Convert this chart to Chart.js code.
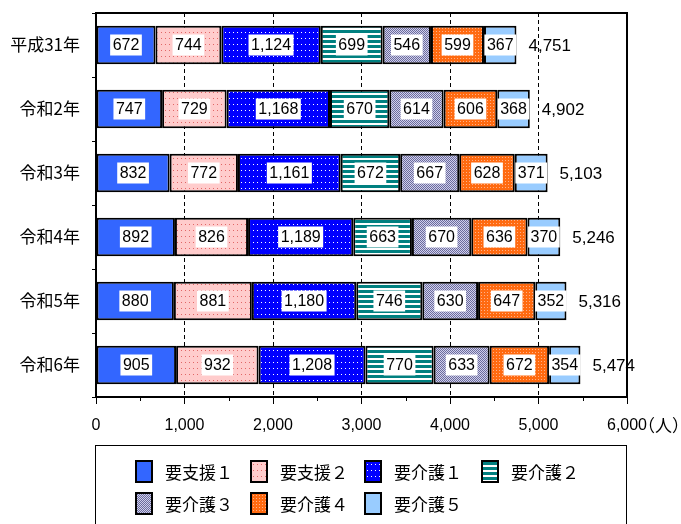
<!DOCTYPE html>
<html><head><meta charset="utf-8">
<script src="https://cdn.jsdelivr.net/npm/chart.js@4"></script>
<style>
html,body{margin:0;padding:0;background:#fff;overflow:hidden}
#wrap{position:relative;width:681px;height:524px}
#legend{position:absolute;left:95px;top:445px;width:532px;height:100px;border:1px solid #000;box-sizing:border-box}
.item{position:absolute;height:23px;font:17px "Noto Sans CJK JP";line-height:23px;white-space:nowrap;color:#000}
.sw{position:absolute;left:0;top:0;width:18px;height:23px;box-sizing:border-box;border:2px solid #000}
.item span{position:absolute;left:30px;top:0}
</style></head>
<body><div id="wrap"><canvas id="c" width="681" height="524"></canvas><div id="legend"></div></div>
<script>
const categories = ["平成31年", "令和2年", "令和3年", "令和4年", "令和5年", "令和6年"];
const seriesNames = ["要支援１", "要支援２", "要介護１", "要介護２", "要介護３", "要介護４", "要介護５"];
const shien1 = [672, 747, 832, 892, 880, 905];
const shien2 = [744, 729, 772, 826, 881, 932];
const kaigo1 = [1124, 1168, 1161, 1189, 1180, 1208];
const kaigo2 = [699, 670, 672, 663, 746, 770];
const kaigo3 = [546, 614, 667, 670, 630, 633];
const kaigo4 = [599, 606, 628, 636, 647, 672];
const kaigo5 = [367, 368, 371, 370, 352, 354];
const totals = [4751, 4902, 5103, 5246, 5316, 5474];
const axisMax = 6000;
const unitLabel = "（人）";

// small repeating tiles for the hatched fills
function tile(w, h, draw) {
  const c = document.createElement("canvas");
  c.width = w; c.height = h;
  draw(c.getContext("2d"));
  return c;
}
function dots(bg, fg, w, h) {
  return tile(w, h, g => { g.fillStyle = bg; g.fillRect(0, 0, w, h); g.fillStyle = fg; g.fillRect(1, 2, 1, 1); });
}
const tiles = [
  tile(2, 2, g => { g.fillStyle = "#3366ff"; g.fillRect(0, 0, 2, 2); }),
  dots("#ffcccc", "#e06666", 4, 6),
  dots("#0000ff", "#ffffff", 4, 6),
  tile(4, 5, g => { g.fillStyle = "#ffffff"; g.fillRect(0, 0, 4, 5); g.fillStyle = "#008080"; g.fillRect(0, 0, 4, 3); }),
  tile(2, 2, g => { g.fillStyle = "#cfcfec"; g.fillRect(0, 0, 2, 2); g.fillStyle = "#6c6c9c"; g.fillRect(0, 0, 1, 1); g.fillRect(1, 1, 1, 1); }),
  tile(3, 3, g => { g.fillStyle = "#ff6a10"; g.fillRect(0, 0, 3, 3); g.fillStyle = "#ffb088"; g.fillRect(1, 1, 1, 1); }),
  tile(2, 2, g => { g.fillStyle = "#99ccff"; g.fillRect(0, 0, 2, 2); })
];

const canvas = document.getElementById("c");
const ctx = canvas.getContext("2d");
const values = [shien1, shien2, kaigo1, kaigo2, kaigo3, kaigo4, kaigo5];
const fmt = v => v.toLocaleString("en-US");

const numFont = '"Liberation Sans", Arial, sans-serif';
const jpFont = '"Noto Sans CJK JP", sans-serif';

const barLabels = {
  id: "barLabels",
  beforeDatasetsDraw(chart) {
    const a = chart.chartArea, g = chart.ctx, xs = chart.scales.x;
    g.save();
    g.lineWidth = 2; g.strokeStyle = "#000";
    g.strokeRect(a.left, a.top, a.right - a.left, a.bottom - a.top);
    // short minor ticks half way between the labelled ones
    g.lineWidth = 1;
    g.beginPath();
    for (let v = 500; v < axisMax; v += 1000) {
      const px = Math.round(xs.getPixelForValue(v)) + 0.5;
      g.moveTo(px, a.bottom); g.lineTo(px, a.bottom + 4);
    }
    g.stroke();
    g.restore();
  },
  afterDatasetsDraw(chart) {
    const g = chart.ctx;
    g.save();
    g.font = "16px " + numFont;
    g.textAlign = "center"; g.textBaseline = "middle";
    chart.data.datasets.forEach((ds, i) => {
      chart.getDatasetMeta(i).data.forEach((bar, j) => {
        const p = bar.getProps(["x", "y", "base"], true);
        const t = fmt(ds.data[j]);
        const w = g.measureText(t).width + 5;
        const cx = (p.x + p.base) / 2;
        g.fillStyle = "#fff";
        g.fillRect(cx - w / 2, p.y - 10.5, w, 21);
        g.fillStyle = "#000";
        g.fillText(t, cx, p.y + 1);
      });
    });
    // totals to the right of each bar
    const xs = chart.scales.x;
    const meta = chart.getDatasetMeta(0);
    g.font = "17px " + numFont;
    g.textAlign = "left";
    totals.forEach((tot, j) => {
      g.fillText(fmt(tot), xs.getPixelForValue(tot) + 12, meta.data[j].y + 1);
    });
    g.restore();
  },
  afterDraw(chart) {
    const g = chart.ctx, a = chart.chartArea;
    g.save();
    g.fillStyle = "#000"; g.textBaseline = "middle"; g.textAlign = "left";
    g.font = "17px " + jpFont;
    g.fillText(unitLabel, 638, a.bottom + 29);
    g.restore();
  }
};

const patterns = tiles.map(t => ctx.createPattern(t, "repeat"));

new Chart(canvas, {
  type: "bar",
  data: {
    labels: categories,
    datasets: seriesNames.map((name, i) => ({
      label: name,
      data: values[i],
      backgroundColor: patterns[i],
      borderColor: "#000",
      borderWidth: 2,
      borderSkipped: false,
      barPercentage: 0.6,
      categoryPercentage: 1
    }))
  },
  options: {
    indexAxis: "y",
    responsive: false,
    animation: false,
    layout: { padding: { top: 13, right: 54, bottom: 0, left: 0 } },
    plugins: { legend: { display: false }, tooltip: { enabled: false } },
    scales: {
      x: {
        stacked: true,
        min: 0,
        max: axisMax,
        ticks: {
          stepSize: 1000,
          autoSkip: false,
          maxRotation: 0,
          padding: 12,
          color: "#000",
          font: { family: numFont, size: 16 },
          callback: v => fmt(v)
        },
        grid: {
          color: c => (c.tick && c.tick.value > 0 && c.tick.value < axisMax) ? "#000" : "rgba(0,0,0,0)",
          tickColor: "#000",
          tickLength: 7,
          lineWidth: 1
        },
        border: { display: false, dash: [4, 3] },
        afterFit: s => { s.height = 127; s.paddingLeft = 0; s.paddingRight = 0; }
      },
      y: {
        stacked: true,
        ticks: { color: "#000", padding: 12, font: { family: jpFont, size: 17 } },
        grid: { drawOnChartArea: false, tickColor: "#000", tickLength: 4 },
        border: { display: false },
        afterFit: s => { s.width = 96; s.paddingTop = 0; s.paddingBottom = 0; }
      }
    }
  },
  plugins: [barLabels]
});

// legend as html, four items per row
const legend = document.getElementById("legend");
const colX = [39, 154, 268, 385];
const rowY = [14, 46];
seriesNames.forEach((name, i) => {
  const item = document.createElement("div");
  item.className = "item";
  item.style.left = colX[i % 4] + "px";
  item.style.top = rowY[Math.floor(i / 4)] + "px";
  const sw = document.createElement("div");
  sw.className = "sw";
  sw.style.backgroundImage = "url(" + tiles[i].toDataURL() + ")";
  const tx = document.createElement("span");
  tx.textContent = name;
  item.appendChild(sw);
  item.appendChild(tx);
  legend.appendChild(item);
});
</script>
</body></html>
